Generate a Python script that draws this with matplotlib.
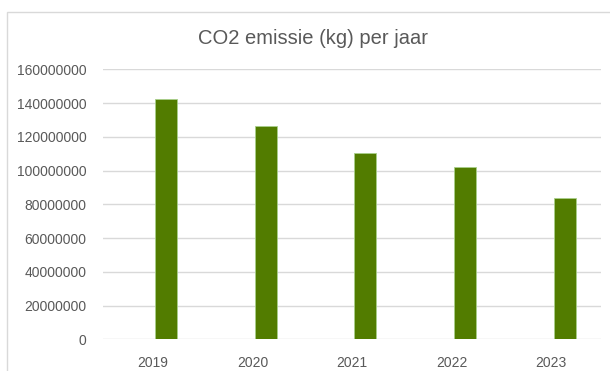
import matplotlib
matplotlib.use("Agg")
import matplotlib.pyplot as plt
import matplotlib.patches as mpatches
import numpy as np

# data
years = ["2019", "2020", "2021", "2022", "2023"]
emissions = [142600000, 126600000, 110600000, 102300000, 83600000]
yticks = [0, 20000000, 40000000, 60000000, 80000000, 100000000,
          120000000, 140000000, 160000000]

BAR = "#527c00"
EDGE = "#a8cf8a"
GRID = "#d9d9d9"
TXT = "#595959"

plt.rcParams["font.family"] = ["Liberation Sans", "DejaVu Sans"]

fig = plt.figure(figsize=(6.1, 3.71), dpi=100)
# chart frame (Excel chart area border, cut off right/bottom)
fig.patches.append(mpatches.Rectangle((7 / 610, -0.05), 1.2, (371 - 12) / 371 + 0.05,
                                      transform=fig.transFigure, fill=False,
                                      ec=GRID, lw=1.0))

ax = fig.add_axes([103 / 610, 31.7 / 371, 498 / 610, 270 / 371])
x = np.arange(len(years))
# clustered bar with an empty first series -> bar sits right of category centre
ax.bar(x + 0.135, emissions, width=0.22, color=BAR, edgecolor=EDGE, linewidth=0.6,
       zorder=3)

ax.set_xlim(-0.5, len(years) - 0.5)
ax.set_ylim(0, 160000000)
ax.set_yticks(yticks)
ax.set_yticklabels([str(v) for v in yticks])
ax.set_xticks(x)
ax.set_xticklabels(years)
ax.grid(axis="y", color=GRID, lw=1.0, zorder=0)
ax.tick_params(axis="both", length=0, labelsize=10, colors=TXT)
ax.tick_params(axis="y", pad=12)
ax.tick_params(axis="x", pad=12)
for s in ax.spines.values():
    s.set_visible(False)

fig.text(313 / 610, 1 - 39 / 371, "CO2 emissie (kg) per jaar", ha="center",
         va="center", fontsize=14.5, color=TXT)

fig.savefig("out.png", dpi=100)
